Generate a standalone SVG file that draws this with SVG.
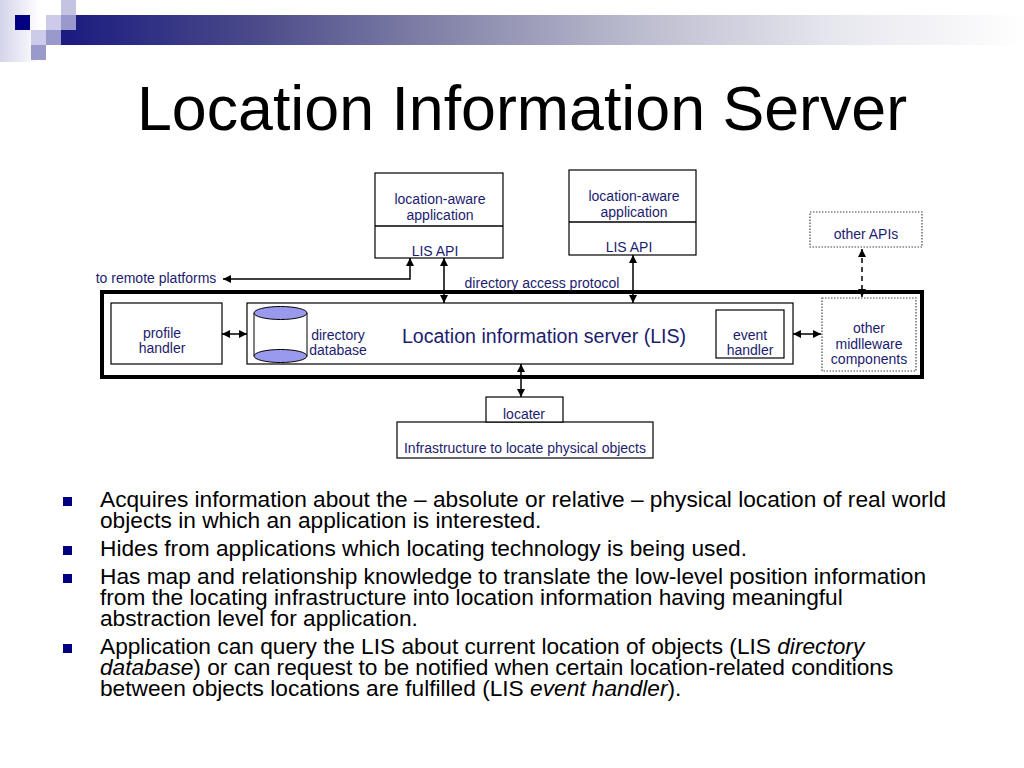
<svg xmlns="http://www.w3.org/2000/svg" width="1024" height="768" viewBox="0 0 1024 768">
<style>
.t{font-family:"Liberation Sans",Arial,sans-serif;font-size:14px;fill:#1c1c6e;text-anchor:middle}
.b{font-family:"Liberation Sans",Arial,sans-serif;font-size:22.7px;fill:#000}
.box{fill:#fff;stroke:#000;stroke-width:1.2}
.dot{fill:#fff;stroke:#444;stroke-width:1.2;stroke-dasharray:1.5 1.5}
.ln{fill:none;stroke:#000;stroke-width:1.5}
.bul{fill:#000080}
</style>
<defs>
<linearGradient id="band" x1="0" y1="0" x2="1" y2="0">
<stop offset="0" stop-color="#1a1a80"/>
<stop offset="0.2" stop-color="#4a4a8a"/>
<stop offset="0.4" stop-color="#8585aa"/>
<stop offset="0.6" stop-color="#bcbccf"/>
<stop offset="0.8" stop-color="#e6e6ee"/>
<stop offset="1" stop-color="#ffffff"/>
</linearGradient>
<linearGradient id="left" x1="0" y1="0" x2="1" y2="0">
<stop offset="0" stop-color="#d4d4ea"/>
<stop offset="1" stop-color="#ffffff"/>
</linearGradient>
<marker id="ah" viewBox="0 0 10 10" refX="10" refY="5" markerWidth="8" markerHeight="8" markerUnits="userSpaceOnUse" orient="auto-start-reverse">
<path d="M0,0 L10,5 L0,10 z" fill="#000"/>
</marker>
</defs>
<rect width="1024" height="768" fill="#fff"/>
<g id="logo">
<rect x="0" y="0" width="40" height="62" fill="url(#left)"/>
<rect x="61" y="15" width="963" height="30" fill="url(#band)"/>
<rect x="15" y="15" width="15" height="15" fill="#000080"/>
<rect x="46" y="15" width="15" height="15" fill="#ccccea"/>
<rect x="61" y="0" width="15" height="15" fill="#c4c4e2"/>
<rect x="61" y="15" width="15" height="15" fill="#9999cc"/>
<rect x="31" y="30" width="15" height="15" fill="#ccccea"/>
<rect x="46" y="30" width="15" height="15" fill="#9999cc"/>
<rect x="31" y="45" width="15" height="15" fill="#9999cc"/>
</g>
<text x="137" y="130" font-family="'Liberation Sans',Arial,sans-serif" font-size="62.7" fill="#000">Location Information Server</text>

<g id="lis-outer"><rect x="102" y="292" width="820" height="85" fill="#fff" stroke="#000" stroke-width="4"/></g>

<g id="app1">
<rect class="box" x="375" y="173" width="128" height="85"/>
<line class="ln" x1="375" y1="226" x2="503" y2="226" stroke-width="1.2"/>
<text class="t" x="440" y="204">location-aware</text>
<text class="t" x="440" y="220">application</text>
<text class="t" x="435" y="256">LIS API</text>
</g>
<g id="app2">
<rect class="box" x="569" y="170" width="127" height="85"/>
<line class="ln" x1="569" y1="222" x2="696" y2="222" stroke-width="1.2"/>
<text class="t" x="634" y="201">location-aware</text>
<text class="t" x="634" y="217">application</text>
<text class="t" x="629" y="252">LIS API</text>
</g>
<g id="other-apis">
<rect class="dot" x="810" y="212" width="112" height="35"/>
<text class="t" x="866" y="239">other APIs</text>
</g>
<g id="profile">
<rect class="box" x="111" y="303" width="111" height="61"/>
<text class="t" x="162" y="338">profile</text>
<text class="t" x="162" y="353">handler</text>
</g>
<g id="lis">
<rect class="box" x="247" y="303" width="546" height="61"/>
<text x="544" y="343" font-family="'Liberation Sans',Arial,sans-serif" font-size="19.6" fill="#1c1c6e" text-anchor="middle">Location information server (LIS)</text>
</g>
<g id="dirdb">
<line x1="254" y1="313" x2="254" y2="356" stroke="#000" stroke-width="1"/>
<line x1="307" y1="313" x2="307" y2="356" stroke="#000" stroke-width="1"/>
<ellipse cx="280.5" cy="356" rx="26.5" ry="6.5" fill="#9999ee" stroke="#000" stroke-width="1"/>
<ellipse cx="280.5" cy="313" rx="26.5" ry="6.5" fill="#9999ee" stroke="#000" stroke-width="1"/>
<text class="t" x="338" y="340">directory</text>
<text class="t" x="338" y="355">database</text>
</g>
<g id="event">
<rect class="box" x="716" y="310" width="68" height="48"/>
<text class="t" x="750" y="340">event</text>
<text class="t" x="750" y="355">handler</text>
</g>
<g id="middleware">
<rect class="dot" x="822" y="298" width="94" height="73"/>
<text class="t" x="869" y="333">other</text>
<text class="t" x="869" y="349">midlleware</text>
<text class="t" x="869" y="364">components</text>
</g>
<g id="infra">
<rect class="box" x="397" y="422" width="256" height="36"/>
<text class="t" x="525" y="453">Infrastructure to locate physical objects</text>
</g>
<g id="locater">
<rect class="box" x="486" y="397" width="77" height="25"/>
<text class="t" x="524" y="419">locater</text>
</g>

<g id="connectors">
<polyline class="ln" points="223,279 410,279 410,258" marker-start="url(#ah)" marker-end="url(#ah)"/>
<line class="ln" x1="444" y1="258" x2="444" y2="303" marker-start="url(#ah)" marker-end="url(#ah)"/>
<line class="ln" x1="633" y1="255" x2="633" y2="303" marker-start="url(#ah)" marker-end="url(#ah)"/>
<line class="ln" x1="862" y1="249" x2="862" y2="297" stroke-dasharray="5 4" marker-start="url(#ah)" marker-end="url(#ah)"/>
<line class="ln" x1="222" y1="334" x2="247" y2="334" marker-start="url(#ah)" marker-end="url(#ah)"/>
<line class="ln" x1="793" y1="334" x2="821" y2="334" marker-start="url(#ah)" marker-end="url(#ah)"/>
<line class="ln" x1="521" y1="364" x2="521" y2="397" marker-start="url(#ah)" marker-end="url(#ah)"/>
<text class="t" x="156" y="283">to remote platforms</text>
<text class="t" x="542" y="288">directory access protocol</text>
</g>

<g id="bullets">
<rect class="bul" x="63" y="497" width="9" height="9"/>
<rect class="bul" x="63" y="546" width="9" height="9"/>
<rect class="bul" x="63" y="574" width="9" height="9"/>
<rect class="bul" x="63" y="644" width="9" height="9"/>
<text class="b" x="100" y="507">Acquires information about the – absolute or relative – physical location of real world<tspan x="100" dy="21">objects in which an application is interested.</tspan></text>
<text class="b" x="100" y="556">Hides from applications which locating technology is being used.</text>
<text class="b" x="100" y="584">Has map and relationship knowledge to translate the low-level position information<tspan x="100" dy="21">from the locating infrastructure into location information having meaningful</tspan><tspan x="100" dy="21">abstraction level for application.</tspan></text>
<text class="b" x="100" y="654">Application can query the LIS about current location of objects (LIS <tspan font-style="italic">directory</tspan><tspan x="100" dy="21" font-style="italic">database</tspan>) or can request to be notified when certain location-related conditions<tspan x="100" dy="21">between objects locations are fulfilled (LIS </tspan><tspan font-style="italic">event handler</tspan>).</text>
</g>
</svg>
